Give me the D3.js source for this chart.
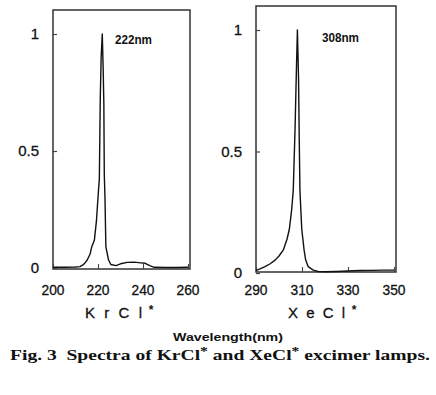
<!DOCTYPE html>
<html><head><meta charset="utf-8">
<script src="https://cdn.jsdelivr.net/npm/d3@7"></script>
<style>body{margin:0;background:#fff}svg{display:block}</style>
</head><body>
<script>
// ---- data ----
const krclWavelength = [200,205,210,212,213.3,214.5,215.2,216.5,217.2,218.4,219.3,220.2,220.6,221.0,221.4,221.9,222.3,222.6,222.8,223.1,223.5,224.7,225.7,228,230,233,236,239,241,243,245,250,255,260];
const krclIntensity  = [0.003,0.003,0.004,0.006,0.013,0.025,0.034,0.06,0.09,0.12,0.2,0.33,0.38,0.72,0.9,1.0,0.85,0.7,0.4,0.3,0.09,0.034,0.015,0.01,0.018,0.024,0.025,0.022,0.02,0.01,0.003,0.002,0.002,0.003];
const xeclWavelength = [290,290.4,292,293.9,296,298.3,300,301.9,303.5,304.5,305.5,306.2,307,307.6,308,308.5,308.8,309.1,309.9,310.9,311.6,312.7,314.9,317,320,325,330,335,340,345,350];
const xeclIntensity  = [0.01,0.012,0.018,0.026,0.037,0.053,0.07,0.095,0.14,0.18,0.26,0.34,0.6,0.85,1.0,0.8,0.55,0.34,0.18,0.095,0.053,0.026,0.012,0.006,0.005,0.006,0.008,0.01,0.011,0.012,0.012];
const krclXTicks = [200,220,240,260];
const xeclXTicks = [290,310,330,350];
const yTicks = [0,0.5,1];
const yTickLabels = ["0","0.5","1"];
const peakLabels = ["222nm","308nm"];
const panelNames = ["K r C l","X e C l"];
const xTitle = "Wavelength(nm)";
const caption = ["Fig. 3  Spectra of KrCl","*"," and XeCl","*"," excimer lamps."];

const W = 436, H = 395;
const svg = d3.select("body").append("svg").attr("width", W).attr("height", H);

const panels = [
  {wl: krclWavelength, it: krclIntensity, dom: [200,260], ticks: krclXTicks,
   box: {l:53, r:190, t:10, b:269}, y0: 268, y1: 34, peak: peakLabels[0], px: 115, py: 44, name: panelNames[0], nx: 85},
  {wl: xeclWavelength, it: xeclIntensity, dom: [290,350], ticks: xeclXTicks,
   box: {l:256, r:396, t:6, b:272}, y0: 273, y1: 30, peak: peakLabels[1], px: 322, py: 42, name: panelNames[1], nx: 288}
];

const tickFont = "'Liberation Sans', Arial, sans-serif";

panels.forEach(p => {
  const x = d3.scaleLinear().domain(p.dom).range([p.box.l, p.box.l + (p.box.r - p.box.l - 2)]);
  const y = d3.scaleLinear().domain([0,1]).range([p.y0, p.y1]);
  const g = svg.append("g");

  // box
  g.append("rect").attr("x", p.box.l).attr("y", p.box.t)
    .attr("width", p.box.r - p.box.l).attr("height", p.box.b - p.box.t)
    .attr("fill", "none").attr("stroke", "#333").attr("stroke-width", 1.5);

  // y axis ticks (inward) + labels
  const yAxis = d3.axisRight(y).tickValues(yTicks).tickSize(4).tickFormat("");
  const ya = g.append("g").attr("transform", `translate(${p.box.l},0)`).call(yAxis);
  ya.select(".domain").remove();
  ya.selectAll(".tick line").attr("stroke", "#444").attr("stroke-width", 1.2);
  yTicks.forEach((v,i) => {
    g.append("text").attr("x", p.box.l - 14).attr("y", y(v) + 5)
      .attr("text-anchor", "end").attr("font-family", tickFont).attr("font-size", 15)
      .attr("fill", "#111").attr("stroke", "#111").attr("stroke-width", 0.3)
      .text(yTickLabels[i]);
  });

  // x axis ticks (inward) + labels
  const xAxis = d3.axisTop(x).tickValues(p.ticks).tickSize(5).tickFormat("");
  const xa = g.append("g").attr("transform", `translate(0,${p.box.b})`).call(xAxis);
  xa.select(".domain").remove();
  xa.selectAll(".tick line").attr("stroke", "#444").attr("stroke-width", 1.1);
  p.ticks.forEach(v => {
    g.append("text").attr("x", x(v)).attr("y", 295)
      .attr("text-anchor", "middle").attr("font-family", tickFont).attr("font-size", 15)
      .attr("textLength", 23).attr("lengthAdjust", "spacingAndGlyphs")
      .attr("fill", "#111").attr("stroke", "#111").attr("stroke-width", 0.3)
      .text(v);
  });

  // spectrum
  const pts = p.wl.map((w,i) => [w, p.it[i]]);
  g.append("path").datum(pts)
    .attr("d", d3.line().x(d => x(d[0])).y(d => y(d[1])))
    .attr("fill", "none").attr("stroke", "#111").attr("stroke-width", 1.4)
    .attr("stroke-linejoin", "round");

  // peak label
  g.append("text").attr("x", p.px).attr("y", p.py)
    .attr("font-family", tickFont).attr("font-size", 12).attr("font-weight", "bold")
    .attr("textLength", 37).attr("lengthAdjust", "spacingAndGlyphs")
    .attr("fill", "#111").text(p.peak);

  // panel name
  g.append("text").attr("x", p.nx).attr("y", 318)
    .attr("font-family", tickFont).attr("font-size", 15)
    .attr("textLength", 57).attr("lengthAdjust", "spacing")
    .attr("fill", "#111").attr("stroke", "#111").attr("stroke-width", 0.3)
    .text(p.name);
  g.append("text").attr("x", p.nx + 66).attr("y", 314)
    .attr("text-anchor", "middle").attr("font-family", tickFont).attr("font-size", 12)
    .attr("font-weight", "bold").attr("fill", "#111").text("*");
});

// x title
svg.append("text").attr("x", 228).attr("y", 341).attr("text-anchor", "middle")
  .attr("font-family", tickFont).attr("font-size", 11).attr("font-weight", "bold")
  .attr("textLength", 110).attr("lengthAdjust", "spacingAndGlyphs")
  .attr("fill", "#111").text(xTitle);

// caption
const cap = svg.append("text").attr("x", 10).attr("y", 360)
  .attr("font-family", "'Liberation Serif', 'Times New Roman', serif")
  .attr("font-size", 15).attr("font-weight", "bold").attr("fill", "#111")
  .attr("textLength", 420).attr("lengthAdjust", "spacingAndGlyphs")
  .attr("xml:space", "preserve");
caption.forEach((s, i) => {
  const t = cap.append("tspan").text(s);
  if (s === "*") t.attr("dy", -5).attr("font-size", 12);
  else t.attr("dy", i > 0 ? 5 : 0);
});
</script>
</body></html>
